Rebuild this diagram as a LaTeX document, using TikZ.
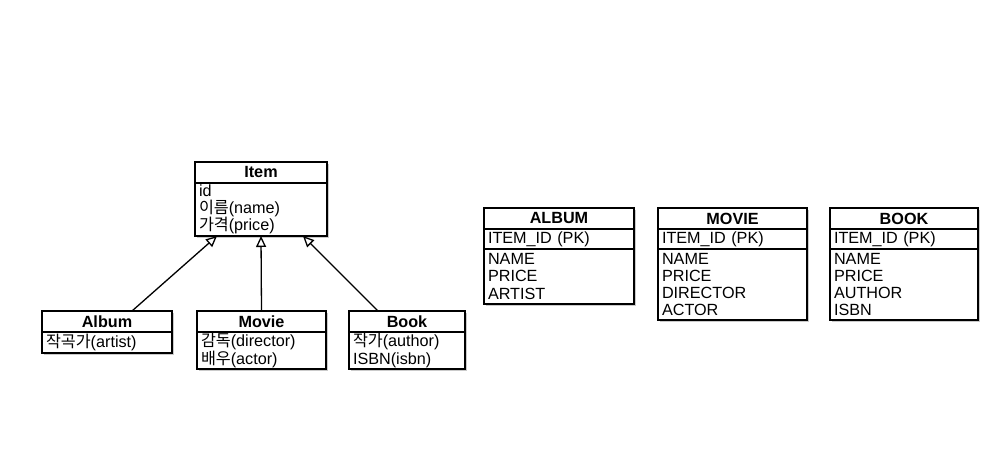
\documentclass[tikz,border=0pt]{standalone}
\usepackage{fontspec}
\setmainfont{Liberation Sans}
\newfontfamily\kr{Noto Sans CJK KR}
\usetikzlibrary{arrows.meta,shadows,positioning}

\begin{document}
\begin{tikzpicture}[x=1pt,y=-1pt,>={Triangle[open,length=11pt,width=10pt]},
  line width=1.3pt,
  box/.style={draw,fill=white,inner xsep=4pt,inner ysep=1.2pt,outer sep=0pt,
  drop shadow={shadow xshift=1.8pt,shadow yshift=-1.8pt,opacity=0.35,fill=black!60},
  font=\fontsize{16.2}{17.3}\selectfont},
  hdr/.style={box,anchor=north west,font=\fontsize{16.2}{17.3}\selectfont\bfseries,
  minimum height=21pt,minimum width=#1},
  fld/.style={box,below=0pt of #1,align=left,anchor=north}]

  \useasboundingbox (0,0) rectangle (1007,474);

  % classes
  \node[hdr=132pt] (item) at (195,162) {Item};
  \node[fld=item, text width=124pt, minimum height=53pt] (itemf)
    {id\\{\kr 이름}(name)\\{\kr 가격}(price)};

  \node[hdr=130pt] (album) at (42,311) {Album};
  \node[fld=album, text width=122pt, minimum height=21pt] (albumf)
    {{\kr 작곡가}(artist)};

  \node[hdr=129pt] (movie) at (197,311) {Movie};
  \node[fld=movie, text width=121pt, minimum height=37pt] (movief)
    {{\kr 감독}(director)\\{\kr 배우}(actor)};

  \node[hdr=116pt] (book) at (349,311) {Book};
  \node[fld=book, text width=108pt, minimum height=37pt] (bookf)
    {{\kr 작가}(author)\\ISBN(isbn)};

  \path[->]
    ([xshift=25pt]album.north) edge ([xshift=-44pt]itemf.south)
    (movie.north) edge (itemf.south)
    ([xshift=-29pt]book.north) edge ([xshift=42pt]itemf.south);

  % tables
  \node[hdr=150pt] (talbum) at (484,208) {ALBUM};
  \node[fld=talbum, text width=142pt, minimum height=20pt] (talbumk) {ITEM\_ID (PK)};
  \node[fld=talbumk, text width=142pt, minimum height=55pt] (talbumf)
    {NAME\\PRICE\\ARTIST};

  \node[hdr=149pt] (tmovie) at (658,208) {MOVIE};
  \node[fld=tmovie, text width=141pt, minimum height=20pt] (tmoviek) {ITEM\_ID (PK)};
  \node[fld=tmoviek, text width=141pt, minimum height=71pt] (tmovief)
    {NAME\\PRICE\\DIRECTOR\\ACTOR};

  \node[hdr=148pt] (tbook) at (830,208) {BOOK};
  \node[fld=tbook, text width=140pt, minimum height=20pt] (tbookk) {ITEM\_ID (PK)};
  \node[fld=tbookk, text width=140pt, minimum height=71pt] (tbookf)
    {NAME\\PRICE\\AUTHOR\\ISBN};
\end{tikzpicture}
\end{document}
